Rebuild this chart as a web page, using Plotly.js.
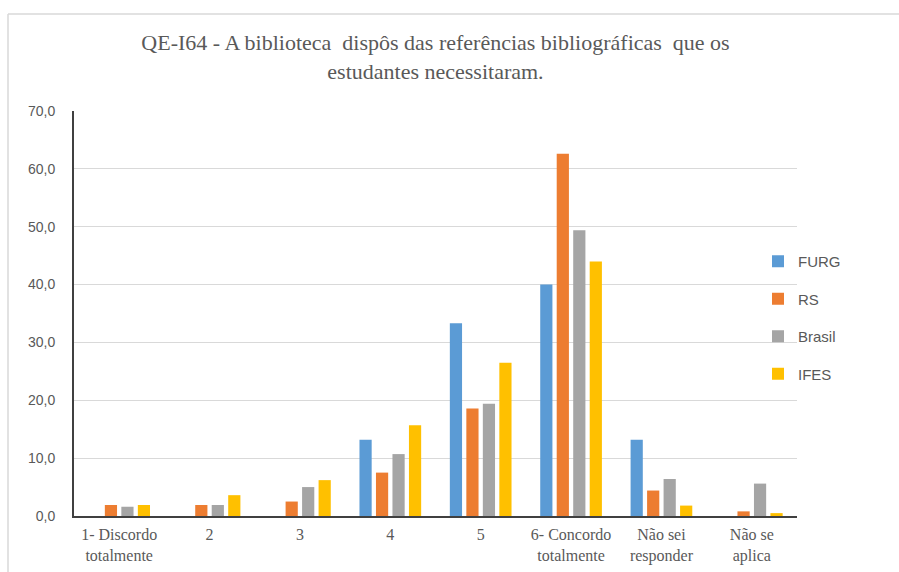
<!DOCTYPE html>
<html>
<head>
<meta charset="utf-8">
<script src="https://cdn.plot.ly/plotly-3.0.1.min.js"></script>
<style>html,body{margin:0;padding:0;background:#fff;}#chart{width:899px;height:572px;}</style>
</head>
<body>
<div id="chart"></div>
<script>
const categories = ["1- Discordo<br>totalmente", "2", "3", "4", "5", "6- Concordo<br>totalmente", "Não sei<br>responder", "Não se<br>aplica"];
const seriesNames = ["FURG", "RS", "Brasil", "IFES"];
const furg   = [0, 0, 0, 13.2, 33.3, 40.0, 13.2, 0];
const rs     = [1.9, 1.9, 2.5, 7.5, 18.6, 62.6, 4.4, 0.8];
const brasil = [1.6, 1.9, 5.0, 10.7, 19.4, 49.4, 6.4, 5.6];
const ifes   = [1.9, 3.6, 6.2, 15.7, 26.5, 44.0, 1.8, 0.5];
const yTicks = [0, 10, 20, 30, 40, 50, 60, 70];
const colors = ["#5B9BD5", "#ED7D31", "#A5A5A5", "#FFC000"];

const allValues = [furg, rs, brasil, ifes];
const traces = allValues.map((vals, i) => ({
  type: "bar",
  name: seriesNames[i],
  x: categories,
  y: vals,
  legendgroup: "g" + i,
  marker: { color: colors[i], line: { width: 0 } },
  hoverinfo: "x+y+name"
}));

const layout = {
  width: 899,
  height: 572,
  paper_bgcolor: "#ffffff",
  plot_bgcolor: "#ffffff",
  margin: { l: 74, r: 102, t: 111, b: 56, autoexpand: false },
  separators: ",.",
  barmode: "group",
  bargap: 0.27,
  bargroupgap: 0.26,
  title: {
    text: "QE-I64 - A biblioteca  dispôs das referências bibliográficas  que os<br>estudantes necessitaram.",
    font: { family: "Liberation Serif, Times New Roman, serif", size: 22, color: "#595959" },
    x: 0.5, xanchor: "center",
    y: 0.9125, yanchor: "middle",
    xref: "paper"
  },
  xaxis: {
    type: "category",
    showline: true,
    linecolor: "#404040",
    linewidth: 2,
    showgrid: false,
    ticks: "",
    ticklabelstandoff: 3,
    tickfont: { family: "Liberation Serif, Times New Roman, serif", size: 16, color: "#595959" },
    fixedrange: true
  },
  yaxis: {
    range: [0, 70],
    tickvals: yTicks,
    tickformat: ".1f",
    showline: true,
    linecolor: "#404040",
    linewidth: 2,
    showgrid: true,
    gridcolor: "#d9d9d9",
    gridwidth: 1,
    zeroline: false,
    ticks: "",
    ticklabelstandoff: 14,
    tickfont: { family: "Liberation Sans, Arial, sans-serif", size: 14, color: "#595959" },
    fixedrange: true
  },
  showlegend: true,
  legend: {
    xref: "container", yref: "container",
    x: 758 / 899, xanchor: "left",
    y: 1 - 245 / 572, yanchor: "top",
    bgcolor: "rgba(0,0,0,0)",
    traceorder: "grouped",
    tracegroupgap: 15,
    itemwidth: 30,
    font: { family: "Liberation Sans, Arial, sans-serif", size: 15, color: "#595959" }
  },
  shapes: [
    { type: "line", xref: "paper", yref: "paper", layer: "above",
      x0: -66 / 723, x1: 825 / 723, y0: 1 + 97 / 405, y1: 1 + 97 / 405,
      line: { color: "#d9d9d9", width: 1.5 } },
    { type: "line", xref: "paper", yref: "paper", layer: "above",
      x0: -66 / 723, x1: -66 / 723, y0: 1 + 97 / 405, y1: -56 / 405,
      line: { color: "#d9d9d9", width: 1.5 } }
  ]
};

Plotly.newPlot("chart", traces, layout, { displayModeBar: false, staticPlot: true });
</script>
</body>
</html>
